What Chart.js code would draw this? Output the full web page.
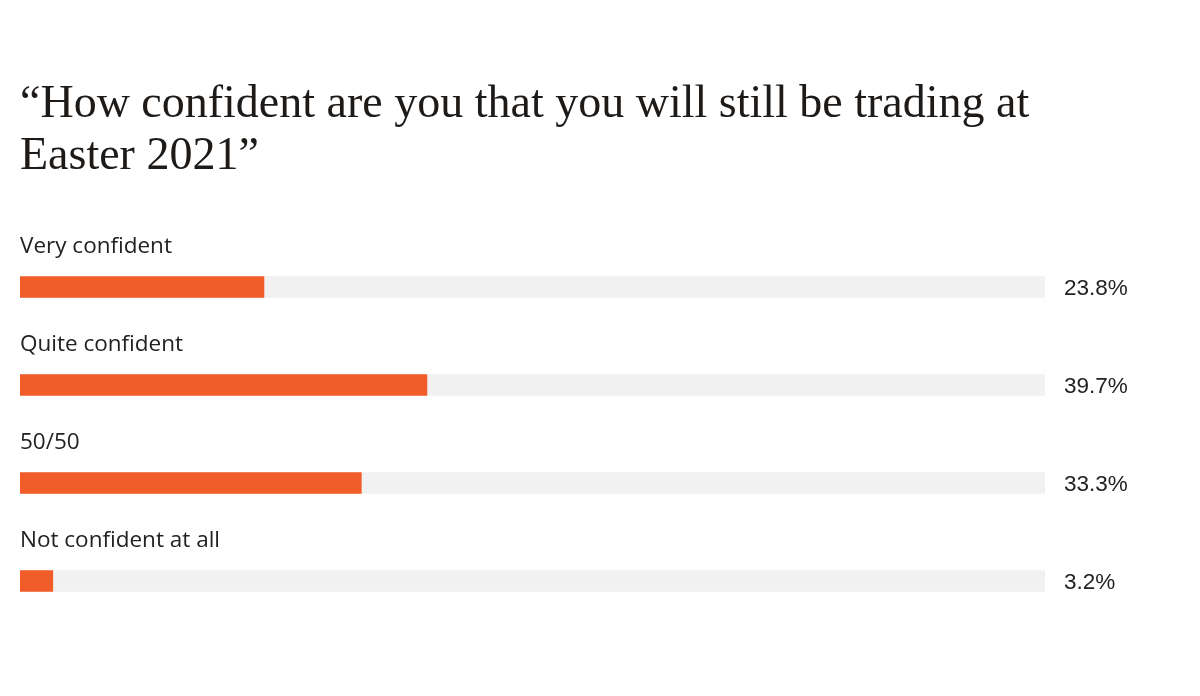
<!DOCTYPE html>
<html>
<head>
<meta charset="utf-8">
<script src="https://cdn.jsdelivr.net/npm/chart.js@4"></script>
<style>
  html, body { margin: 0; padding: 0; background: #fff; }
  #wrap { width: 1200px; height: 696px; position: relative; }
</style>
</head>
<body>
<div id="wrap"><canvas id="myChart"></canvas></div>
<script>
var titleLines = ["\u201CHow confident are you that you will still be trading at", "Easter 2021\u201D"];
var answers = ["Very confident", "Quite confident", "50/50", "Not confident at all"];
var shares = [23.8, 39.7, 33.3, 3.2];
var fullTrack = [100, 100, 100, 100];

// draws the answer above each bar and the % to the right of the track
var barText = {
  id: "barText",
  afterDatasetsDraw: function(chart) {
    var ctx = chart.ctx;
    var area = chart.chartArea;
    var yAxis = chart.scales.y;
    ctx.save();
    ctx.fillStyle = "#222";
    ctx.textBaseline = "middle";
    ctx.textAlign = "left";
    for (var i = 0; i < answers.length; i++) {
      var y = yAxis.getPixelForValue(i);
      ctx.font = "22.5px 'Open Sans', Arial, sans-serif";
      ctx.fillText(answers[i], area.left, y - 40);
      ctx.font = "22.5px 'Liberation Sans', Arial, sans-serif";
      ctx.fillText(shares[i].toFixed(1) + "%", area.right + 19, y + 2);
    }
    ctx.restore();
  }
};

new Chart("myChart", {
  type: "bar",
  data: {
    labels: answers,
    datasets: [{
      data: shares,
      backgroundColor: "#F05D28",
      barThickness: 21,
      grouped: false,
      order: 0
    }, {
      data: fullTrack,
      backgroundColor: "#F1F1F1",
      barThickness: 21,
      grouped: false,
      order: 1
    }]
  },
  options: {
    indexAxis: "y",
    responsive: true,
    maintainAspectRatio: false,
    animation: false,
    layout: { padding: { left: 20, right: 155, top: 79, bottom: 66 } },
    scales: {
      x: { display: false, min: 0, max: 100 },
      y: { display: false }
    },
    plugins: {
      legend: { display: false },
      tooltip: { enabled: false },
      title: {
        display: true,
        text: titleLines,
        align: "start",
        color: "#1d1a18",
        font: { family: "'Liberation Serif', 'DejaVu Serif', serif", size: 46, weight: "normal", lineHeight: 1.13 },
        padding: { top: 0, bottom: 55 }
      }
    }
  },
  plugins: [barText]
});
</script>
</body>
</html>
